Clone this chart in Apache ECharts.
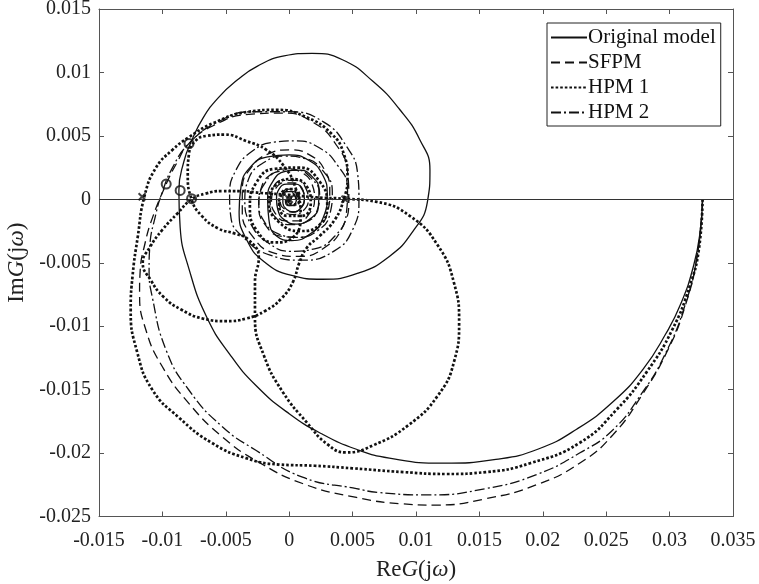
<!DOCTYPE html>
<html>
<head>
<meta charset="utf-8">
<script src="https://cdn.jsdelivr.net/npm/echarts@6/dist/echarts.min.js"></script>
<style>
html, body { margin: 0; padding: 0; background: #fff; }
#main { width: 759px; height: 584px; }
</style>
</head>
<body>
<div id="main"></div>
<script>
// all curve points in units of 1e-3 (Re, Im)
var SCALE = 0.001;

var originalPts = [
    [32.6, 0], [32.4, -2.6], [31.9, -5.2], [30.9, -8.2], [29.7, -10.6], [27.9, -13.4], [25.6, -15.9],
    [22.7, -18.1], [19.6, -19.7], [16.3, -20.5], [12.1, -20.8], [7.9, -20.4], [5.3, -19.7],
    [2.6, -18.5], [0, -16.9], [-2.6, -14.7], [-4.7, -12.2], [-6.5, -9.3], [-7.9, -5.5], [-8.6, -2.2],
    [-8.7, 0.7], [-8.3, 3.0], [-7.7, 4.6], [-6.8, 6.4], [-5.6, 8.0], [-4.1, 9.4], [-2.5, 10.5],
    [-0.4, 11.3], [1.8, 11.5], [4.2, 11.0], [6.6, 9.3], [8.7, 7.1], [10.3, 4.7], [11.1, 2.3],
    [10.9, -0.2], [9.7, -2.6], [7.9, -4.5], [5.5, -5.8], [2.6, -6.3], [0.2, -6.0], [-2.0, -4.9],
    [-3.4, -3.1], [-3.95, -1.0], [-3.8, 1.0], [-3.1, 2.5], [-1.7, 3.35], [0, 3.5], [1.5, 3.1],
    [2.6, 2.0], [3.0, 0.3], [2.7, -1.4], [1.7, -2.7], [0.2, -3.25], [-1.0, -2.9], [-1.6, -1.6],
    [-1.7, 0], [-1.3, 1.4], [-0.3, 2.2], [0.8, 2.3], [1.8, 1.8], [2.35, 0.7], [2.3, -0.6],
    [1.7, -1.5], [0.6, -1.95], [-0.4, -1.6], [-0.9, -0.8], [-1.0, 0], [-0.8, 0.8], [-0.2, 1.2],
    [0.5, 1.2], [1.1, 0.7], [1.2, 0], [0.9, -0.7], [0.3, -1.0], [-0.2, -0.8], [-0.5, -0.3],
    [-0.5, 0.2], [-0.2, 0.6], [0.3, 0.6], [0.6, 0.2], [0.5, -0.3], [0.1, -0.5], [-0.2, -0.2],
    [-0.1, 0.2], [0.2, 0.2], [0.15, 0]
];

var sfpmPts = [
    [32.6, 0], [32.2, -4.3], [31.2, -8.5], [29.8, -12], [27.9, -15.3], [25.5, -18.6], [22.9, -20.8],
    [19.5, -22.5], [15.5, -23.6], [11.5, -24.1], [8.9, -24.0], [5.3, -23.5], [1.05, -22.4],
    [-2.6, -20.6], [-5.3, -18.7], [-7.9, -16.1], [-10, -13.2], [-11.3, -10.3], [-11.8, -7.4],
    [-11.75, -5.6], [-11.4, -3.6], [-10.8, -1.5], [-9.7, 1.2], [-8.9, 2.8], [-7.9, 4.4], [-6.0, 5.8],
    [-3.2, 6.7], [-0.5, 6.8], [2.0, 6.0], [3.7, 4.3], [4.6, 2.2], [4.7, 0], [4.2, -2.2], [2.8, -3.8],
    [0.8, -4.5], [-1.3, -4.2], [-2.9, -2.9], [-3.7, -1.0], [-3.7, 0.8], [-3.0, 2.5], [-1.6, 3.6],
    [0, 3.9], [1.6, 3.5], [2.8, 2.3], [3.2, 0.6], [3.0, -1.1], [2.1, -2.4], [0.8, -3.0], [-0.7, -2.9],
    [-1.9, -2.0], [-2.4, -0.6], [-2.2, 0.9], [-1.4, 2.0], [-0.2, 2.4], [1.0, 2.1], [1.8, 1.2],
    [2.0, 0], [1.6, -1.1], [0.8, -1.7], [-0.3, -1.7], [-1.1, -1.1], [-1.4, -0.1], [-1.1, 0.8],
    [-0.4, 1.3], [0.4, 1.3], [1.0, 0.8], [1.2, 0], [0.9, -0.7], [0.3, -1.0], [-0.3, -0.8],
    [-0.7, -0.3], [-0.6, 0.3], [-0.2, 0.6], [0.3, 0.5], [0.5, 0.1], [0.3, -0.3], [0, -0.3],
    [-0.1, 0], [0, 0]
];

var hpm1Pts = [
    [32.6, 0], [32.3, -4], [31.6, -6.8], [30.2, -10.3], [28.2, -13.6], [25.8, -16.6], [22.9, -19.2],
    [19, -20.8], [15.5, -21.5], [12.4, -21.65], [9, -21.5], [5, -21.2], [2, -21.0], [-0.8, -20.9],
    [-3.4, -20.4], [-6.1, -19.2], [-8.7, -17.2], [-10.8, -15.0], [-12.0, -12.0], [-12.5, -8.7],
    [-12.35, -6.0], [-11.95, -3.0], [-11.4, 0.3], [-10.5, 2.5], [-9.2, 3.9], [-7.9, 4.9], [-6, 6],
    [-3.2, 6.9], [-1, 7.05], [1.3, 6.5], [3.3, 5.2], [4.3, 3.6], [4.6, 1.7], [4.3, 0], [3.6, -1.6],
    [2.4, -2.9], [1.4, -3.8], [0.8, -5.0], [0.3, -6.5], [-0.6, -7.8], [-1.9, -8.8], [-3.4, -9.4],
    [-5, -9.6], [-6.8, -9.4], [-8.5, -8.7], [-9.9, -7.7], [-10.9, -6.4], [-11.55, -5.0], [-11.0, -3.8],
    [-10.0, -2.4], [-8.8, -1.1], [-7.7, 0], [-6.6, 0.45], [-5.3, 0.65], [-3.8, 0.65], [-2.2, 0.5],
    [0, 0.35], [2.2, 0.15], [4.3, 0.05], [6.9, -0.2], [9.5, -1.3], [11.7, -3.6], [13.0, -6.6],
    [13.4, -9.7], [13.0, -12.8], [11.7, -15.5], [9.4, -17.8], [6.6, -19.4], [4.5, -19.95], [3.0, -19.3],
    [1.4, -17.6], [-0.5, -15.2], [-2.0, -12.3], [-2.7, -9.3], [-2.7, -6.5], [-2.4, -4.6], [-3.2, -3.2],
    [-4.3, -2.7], [-5.6, -2.3], [-6.9, -1.3], [-7.7, 0], [-8.0, 2], [-7.9, 3.6], [-7.4, 4.6],
    [-6.5, 5.0], [-5.1, 5.1], [-3.4, 4.6], [-1.8, 3.9], [-0.4, 2.6], [0.5, 0.9], [0.9, -1.2],
    [0.3, -3.0], [-1.2, -3.4], [-2.6, -2.4], [-3.1, -0.6], [-2.6, 1.3], [-1.2, 2.4], [0.8, 2.5],
    [2.4, 1.4], [3.0, -0.4], [2.4, -2.0], [0.8, -2.5], [-0.8, -1.8], [-1.6, -0.3], [-1.1, 1.1],
    [0.2, 1.6], [1.4, 1.0], [1.7, -0.3], [1.0, -1.3], [-0.2, -1.3], [-0.8, -0.4], [-0.6, 0.5],
    [0.2, 0.8], [0.8, 0.3], [0.6, -0.4], [0, -0.4], [0, 0]
];

var hpm2Pts = [
    [32.6, 0], [32.2, -4.3], [31.2, -8.4], [29.6, -12.3], [27.8, -15.3], [25.5, -18.2], [22.9, -20.0],
    [19.5, -21.7], [15.5, -22.8], [11, -23.3], [7, -23.1], [5.3, -22.8], [1.05, -21.9], [-2.6, -19.8],
    [-5.3, -17.9], [-7.9, -15.05], [-9.7, -11.9], [-10.8, -7.7], [-11.05, -5.5], [-11.0, -3.8],
    [-10.5, -1.1], [-10.1, 0.3], [-9.2, 2.5], [-7.9, 4.4], [-5.8, 6.0], [-3, 6.9], [0, 6.9],
    [2.7, 6.1], [4.5, 4.2], [5.4, 2.0], [5.5, 0], [5.0, -2.4], [3.5, -4.1], [1.05, -4.8], [-1.5, -4.4],
    [-3.5, -3.1], [-4.6, -1.4], [-4.7, 0.3], [-4.2, 2.3], [-2.9, 3.8], [-1.2, 4.5], [0.5, 4.6],
    [2.3, 4.1], [3.8, 2.7], [4.6, 0.8], [4.5, -1.2], [3.6, -2.9], [2.0, -3.9], [0.1, -4.1],
    [-1.7, -3.4], [-3.0, -2.0], [-3.5, -0.2], [-3.2, 1.6], [-2.0, 2.9], [-0.4, 3.4], [1.3, 3.2],
    [2.7, 2.2], [3.4, 0.6], [3.2, -1.2], [2.2, -2.5], [0.7, -3.0], [-0.9, -2.7], [-2.0, -1.7],
    [-2.4, -0.2], [-1.9, 1.3], [-0.8, 2.2], [0.6, 2.3], [1.8, 1.6], [2.4, 0.4], [2.2, -0.9],
    [1.3, -1.8], [0.1, -2.0], [-1.0, -1.5], [-1.5, -0.4], [-1.3, 0.8], [-0.5, 1.5], [0.5, 1.5],
    [1.3, 0.9], [1.5, -0.1], [1.1, -0.9], [0.3, -1.2], [-0.5, -0.9], [-0.8, -0.2], [-0.6, 0.5],
    [0, 0.8], [0.6, 0.5], [0.8, -0.1], [0.4, -0.5], [-0.1, -0.5], [-0.3, -0.1], [0, 0.2], [0.2, 0],
    [0, 0]
];

// crossing markers
var circleMarks = [[-7.9, 4.4], [-9.7, 1.2], [-8.6, 0.7], [-7.7, 0.05]];
var crossMarks = [[-11.6, 0.2], [4.4, 0], [0, 0]];

function toVal(arr) {
    return arr.map(function (p) { return [p[0] * SCALE, p[1] * SCALE]; });
}

function tickFmt(v) {
    return String(parseFloat(v.toFixed(4)));
}

var FONT = '"Liberation Serif", "Times New Roman", serif';
var AXIS_COLOR = '#555';

var chart = echarts.init(document.getElementById('main'));

function curve(name, pts, lineType, width) {
    return {
        name: name,
        type: 'line',
        data: toVal(pts),
        symbol: 'none',
        smooth: 0.5,
        lineStyle: { color: '#111', width: width, type: lineType },
        itemStyle: { color: '#111' },
        z: 3,
        animation: false
    };
}

var axisCommon = {
    type: 'value',
    interval: 0.005,
    splitLine: { show: false },
    axisLine: { show: true, onZero: false, lineStyle: { color: AXIS_COLOR, width: 1 } },
    axisTick: { show: true, inside: true, length: 5, lineStyle: { color: AXIS_COLOR } }
};

var nameRich = {
    r: { fontFamily: FONT, fontSize: 23, color: '#222' },
    i: { fontFamily: FONT, fontSize: 23, fontStyle: 'italic', color: '#222' }
};

var option = {
    backgroundColor: '#fff',
    animation: false,
    grid: { left: 99, right: 26, top: 9, bottom: 67.5, outerBoundsMode: 'none' },
    legend: {
        data: ['Original model', 'SFPM', 'HPM 1', 'HPM 2'],
        orient: 'vertical',
        left: 547,
        top: 23,
        padding: [4, 5, 3, 3],
        itemGap: 4,
        itemWidth: 36,
        itemHeight: 14,
        backgroundColor: '#fff',
        borderColor: '#222',
        borderWidth: 1,
        itemStyle: { opacity: 0 },
        textStyle: { fontFamily: FONT, fontSize: 21, color: '#111', padding: [0, 0, 0, -4] }
    },
    xAxis: [
        Object.assign({}, axisCommon, {
            min: -0.015, max: 0.035, position: 'bottom',
            name: '{r|Re}{i|G}{r|(j}{i|ω}{r|)}',
            nameLocation: 'middle',
            nameGap: 42,
            nameTextStyle: { rich: nameRich },
            axisLabel: { fontFamily: FONT, fontSize: 20, color: '#222', margin: 14, formatter: tickFmt }
        }),
        Object.assign({}, axisCommon, {
            min: -0.015, max: 0.035, position: 'top',
            axisLabel: { show: false }
        })
    ],
    yAxis: [
        Object.assign({}, axisCommon, {
            min: -0.025, max: 0.015, position: 'left',
            name: '{r|Im}{i|G}{r|(j}{i|ω}{r|)}',
            nameLocation: 'middle',
            nameRotate: 90,
            nameGap: 70,
            nameTextStyle: { rich: nameRich },
            axisLabel: { fontFamily: FONT, fontSize: 20, color: '#222', margin: 8, formatter: tickFmt }
        }),
        Object.assign({}, axisCommon, {
            min: -0.025, max: 0.015, position: 'right',
            axisLabel: { show: false }
        })
    ],
    series: [
        Object.assign(curve('Original model', originalPts, 'solid', 1.3), {
            markLine: {
                silent: true,
                symbol: 'none',
                label: { show: false },
                lineStyle: { color: '#333', width: 1, type: 'solid' },
                data: [{ yAxis: 0 }]
            }
        }),
        curve('SFPM', sfpmPts, [9, 5], 1.3),
        curve('HPM 1', hpm1Pts, [2.6, 2], 2.7),
        curve('HPM 2', hpm2Pts, [10, 3, 2, 3], 1.3),
        {
            name: 'o',
            type: 'scatter',
            data: toVal(circleMarks),
            symbol: 'circle',
            symbolSize: 9,
            itemStyle: { color: 'rgba(0,0,0,0)', borderColor: '#111', borderWidth: 2 },
            z: 5
        },
        {
            name: 'x',
            type: 'scatter',
            data: toVal(crossMarks),
            symbol: 'path://M0,0L10,10M10,0L0,10',
            symbolSize: 7,
            itemStyle: { color: 'rgba(0,0,0,0)', borderColor: '#111', borderWidth: 2 },
            z: 5
        }
    ]
};

chart.setOption(option);
</script>
</body>
</html>
